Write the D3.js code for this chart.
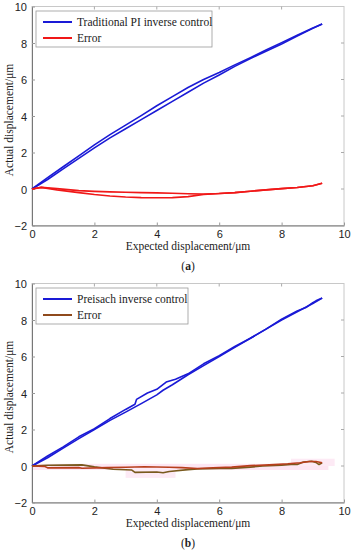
<!DOCTYPE html>
<html>
<head>
<meta charset="utf-8">
<script src="https://cdn.jsdelivr.net/npm/d3@7"></script>
<style>
  body { margin: 0; background: #fff; }
  svg text { fill: #222; }
</style>
</head>
<body>
<div id="chart-container"></div>
<script>
// axis ticks
const xTicks = [0, 2, 4, 6, 8, 10]
const yTicks = [-2, 0, 2, 4, 6, 8, 10]

// (a) traditional PI inverse control: loading / unloading branch
const piUpX = [0, 0.5, 1, 1.5, 2, 2.5, 3, 3.5, 4, 4.5, 5, 5.5, 6, 6.5, 7, 7.5, 8, 8.5, 9, 9.3]
const piUpY = [0, 0.52, 1.1, 1.68, 2.25, 2.8, 3.3, 3.8, 4.3, 4.8, 5.3, 5.8, 6.25, 6.72, 7.15, 7.55, 7.95, 8.38, 8.8, 9.04]
const piDownX = [9.3, 9, 8.5, 8, 7.5, 7, 6.5, 6, 5.5, 5, 4.5, 4, 3.5, 3, 2.5, 2, 1.5, 1, 0.5, 0]
const piDownY = [9.04, 8.82, 8.42, 8.02, 7.62, 7.2, 6.8, 6.38, 6.0, 5.56, 5.06, 4.56, 4.02, 3.5, 2.98, 2.42, 1.82, 1.22, 0.62, 0]

// (a) error
const errAUpX = [0, 0.3, 0.8, 1.5, 2, 2.5, 3, 3.5, 4, 4.5, 5, 5.5, 6, 6.5, 7, 7.5, 8, 8.5, 9, 9.3]
const errAUpY = [0, 0.09, -0.05, -0.2, -0.3, -0.38, -0.44, -0.47, -0.48, -0.47, -0.42, -0.3, -0.25, -0.2, -0.12, -0.05, 0.02, 0.08, 0.18, 0.31]
const errADownX = [9.3, 9, 8.5, 8, 7.5, 7, 6.5, 6, 5.5, 5, 4.5, 4, 3.5, 3, 2.5, 2, 1.5, 0.8, 0.3, 0]
const errADownY = [0.31, 0.18, 0.08, 0.02, -0.05, -0.12, -0.2, -0.25, -0.28, -0.26, -0.23, -0.21, -0.2, -0.18, -0.16, -0.13, -0.09, 0.02, 0.09, 0]

// (b) Preisach inverse control
const prUpX = [0, 0.5, 1, 1.5, 2, 2.5, 3, 3.5, 4, 4.2, 4.5, 5, 5.5, 6, 6.5, 7, 7.5, 8, 8.5, 9, 9.3]
const prUpY = [0, 0.45, 0.98, 1.5, 2.0, 2.5, 2.95, 3.42, 3.9, 4.15, 4.45, 5.0, 5.5, 6.0, 6.5, 7.0, 7.5, 8.0, 8.45, 8.9, 9.2]
const prDownX = [9.3, 9.1, 9, 8.8, 8.5, 8, 7.5, 7, 6.5, 6, 5.5, 5, 4.6, 4.3, 4, 3.7, 3.35, 3.3, 3, 2.5, 2, 1.5, 1, 0.5, 0]
const prDownY = [9.2, 9.05, 8.95, 8.7, 8.5, 8.05, 7.5, 7.0, 6.55, 6.05, 5.6, 5.05, 4.75, 4.6, 4.2, 4.0, 3.65, 3.38, 3.1, 2.6, 2.05, 1.6, 1.05, 0.55, 0]

// (b) error
const errBUpX = [0, 0.5, 1, 1.6, 2, 2.6, 3.2, 3.3, 4, 4.2, 4.4, 5, 5.3, 6, 6.4, 7, 7.4, 8, 8.3, 8.5, 8.7, 8.96, 9.1, 9.2, 9.3]
const errBUpY = [0, 0.04, 0.05, 0.06, -0.05, -0.18, -0.22, -0.35, -0.33, -0.37, -0.3, -0.2, -0.16, -0.14, -0.13, -0.06, 0, 0.05, 0.09, 0.08, 0.22, 0.26, 0.2, 0.08, 0.18]
const errBDownX = [9.3, 9.1, 8.9, 8.6, 8.2, 7.6, 7, 6.4, 5.8, 5.3, 4.8, 4.4, 3.6, 3, 2.4, 1.6, 1.5, 0.5, 0.4, 0]
const errBDownY = [0.18, 0.25, 0.25, 0.18, 0.12, 0.06, 0.02, -0.06, -0.1, -0.14, -0.09, -0.07, -0.04, -0.07, -0.09, -0.12, -0.09, -0.1, -0.02, 0]

const W = 352, H = 550
const svg = d3.select('#chart-container')
  .append('svg')
  .attr('width', W)
  .attr('height', H)

const pts = (xs, ys) => xs.map((x, i) => [x, ys[i]])

const drawPanel = (top, bottom, tag, series, legendW, pink) => {
  const left = 32, right = 344

  const xScale = d3.scaleLinear().domain([0, 10]).range([left, right])
  const yScale = d3.scaleLinear().domain([-2, 10]).range([bottom, top])

  const g = svg.append('g')

  if (pink) {
    // faint pink haze around the error trace
    g.append('rect').attr('x', xScale(0)).attr('y', yScale(0.12))
      .attr('width', xScale(9.5) - xScale(0)).attr('height', yScale(-0.22) - yScale(0.12))
      .attr('fill', '#fde6f3')
    g.append('rect').attr('x', xScale(3)).attr('y', yScale(0))
      .attr('width', xScale(4.6) - xScale(3)).attr('height', yScale(-0.65) - yScale(0))
      .attr('fill', '#fdeaf5')
    g.append('rect').attr('x', xScale(8.3)).attr('y', yScale(0.4))
      .attr('width', xScale(9.7) - xScale(8.3)).attr('height', yScale(0) - yScale(0.4))
      .attr('fill', '#fdeaf5')
  }

  // frame
  g.append('rect')
    .attr('x', left).attr('y', top)
    .attr('width', right - left).attr('height', bottom - top)
    .attr('fill', 'none').attr('stroke', '#c8c8c8').attr('stroke-width', 1)

  const xAxis = d3.axisBottom(xScale).tickValues(xTicks).tickSizeInner(-3).tickSizeOuter(0).tickPadding(5)
  const xg = g.append('g').attr('transform', `translate(0, ${bottom})`).call(xAxis)
  const yAxis = d3.axisLeft(yScale).tickValues(yTicks).tickSizeInner(-3).tickSizeOuter(0).tickPadding(5)
  const yg = g.append('g').attr('transform', `translate(${left}, 0)`).call(yAxis)
  ;[xg, yg].forEach(a => {
    a.select('.domain').attr('stroke', '#777')
    a.selectAll('.tick line').attr('stroke', '#999')
    a.selectAll('text').attr('font-family', 'Liberation Sans, Arial, sans-serif')
      .attr('font-size', 11).attr('fill', '#333')
  })
  yg.selectAll('text').attr('dy', '0.4em')

  // top / right ticks
  g.append('g').selectAll('line').data(xTicks.slice(1, -1)).enter().append('line')
    .attr('x1', d => xScale(d)).attr('x2', d => xScale(d))
    .attr('y1', top).attr('y2', top + 3).attr('stroke', '#aaa')
  g.append('g').selectAll('line').data(yTicks.slice(1, -1)).enter().append('line')
    .attr('x1', right).attr('x2', right - 3)
    .attr('y1', d => yScale(d)).attr('y2', d => yScale(d)).attr('stroke', '#aaa')

  const line = d3.line().x(d => xScale(d[0])).y(d => yScale(d[1])).curve(d3.curveLinear)

  series.forEach(s => {
    s.parts.forEach(p => {
      g.append('path')
        .attr('d', line(p.data))
        .attr('fill', 'none')
        .attr('stroke', p.color)
        .attr('stroke-width', 1.6)
        .attr('stroke-linejoin', 'round')
    })
  })

  // legend
  const lx = 36, ly = top + 4.5
  const leg = g.append('g')
  leg.append('rect').attr('x', lx).attr('y', ly).attr('width', legendW).attr('height', 36)
    .attr('fill', '#fff').attr('stroke', '#999').attr('stroke-width', 0.8)
  series.forEach((s, i) => {
    const yy = ly + 11 + i * 16
    leg.append('line').attr('x1', lx + 7).attr('x2', lx + 36).attr('y1', yy).attr('y2', yy)
      .attr('stroke', s.color).attr('stroke-width', 2)
    leg.append('text').attr('x', lx + 41).attr('y', yy).attr('dy', '0.35em')
      .attr('font-family', 'Liberation Serif, serif').attr('font-size', 11.5)
      .text(s.name)
  })

  // labels
  g.append('text')
    .attr('x', (left + right) / 2).attr('y', bottom + 24)
    .attr('text-anchor', 'middle')
    .attr('font-family', 'Liberation Serif, serif').attr('font-size', 11.5)
    .text('Expected displacement/μm')
  g.append('text')
    .attr('transform', `translate(13, ${(top + bottom) / 2 + 4}) rotate(-90)`)
    .attr('text-anchor', 'middle')
    .attr('font-family', 'Liberation Serif, serif').attr('font-size', 11.5)
    .text('Actual displacement/μm')
  g.append('text')
    .attr('x', (left + right) / 2).attr('y', bottom + 44)
    .attr('text-anchor', 'middle')
    .attr('font-family', 'Liberation Serif, serif').attr('font-size', 11.5)
    .html(`(<tspan font-weight="bold">${tag}</tspan>)`)
}

drawPanel(6.5, 225.5, 'a', [
  { name: 'Traditional PI inverse control', color: '#1a1ad6',
    parts: [{ data: pts(piUpX, piUpY), color: '#1a1ad6' }, { data: pts(piDownX, piDownY), color: '#1a1ad6' }] },
  { name: 'Error', color: '#f01818',
    parts: [{ data: pts(errAUpX, errAUpY), color: '#f01818' }, { data: pts(errADownX, errADownY), color: '#f01818' }] }
], 176, false)

drawPanel(283.5, 502.5, 'b', [
  { name: 'Preisach inverse control', color: '#1a1ad6',
    parts: [{ data: pts(prUpX, prUpY), color: '#1a1ad6' }, { data: pts(prDownX, prDownY), color: '#1a1ad6' }] },
  { name: 'Error', color: '#8f4a1c',
    parts: [{ data: pts(errBUpX, errBUpY), color: '#7a5a1e' }, { data: pts(errBDownX, errBDownY), color: '#b83e1c' }] }
], 152, true)
</script>
</body>
</html>
